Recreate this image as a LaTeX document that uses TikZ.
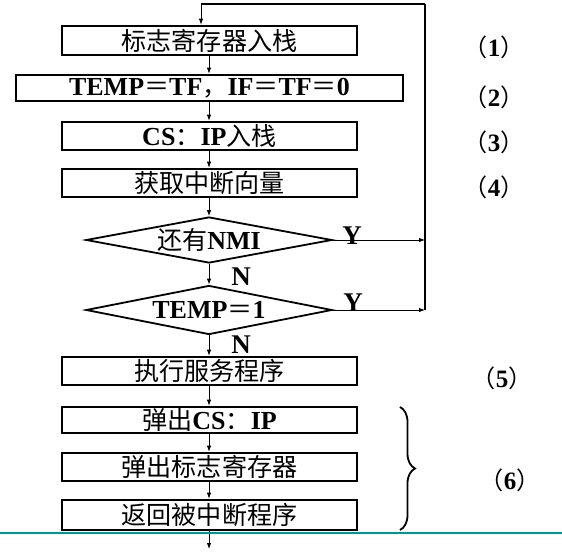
\documentclass[tikz,border=0pt]{standalone}
\usepackage{fontspec}
\setmainfont{Liberation Serif}
\newfontfamily\cjk[Scale=0.965]{Noto Sans CJK SC}
\usetikzlibrary{shapes.geometric,arrows.meta,decorations.pathreplacing}
\newcommand{\C}[1]{{\cjk\mdseries #1}}
\definecolor{tealline}{RGB}{0,150,145}
\begin{document}
\begin{tikzpicture}[x=1pt,y=-1pt,
  box/.style={draw,line width=2.6pt,rectangle,minimum width=295pt,inner sep=0pt,font=\fontsize{26}{26}\selectfont\bfseries},
  dia/.style={draw,line width=1.8pt,diamond,inner sep=0pt,minimum width=246pt,aspect=5.3,font=\fontsize{26}{26}\selectfont\bfseries},
  arr/.style={line width=0.9pt,-{Latex[length=6pt,width=4.5pt]}},
  lbl/.style={font=\fontsize{27}{27}\selectfont\bfseries},
  num/.style={font=\fontsize{25}{25}\selectfont\bfseries}]
\useasboundingbox (0,0) rectangle (562,555);
\node[box,minimum height=29pt] (b1) at (209.5,40.5) {\C{标志寄存器入栈}};
\node[box,minimum height=26pt,minimum width=387pt] (b2) at (209.5,88) {TEMP\C{＝}TF\C{，}IF\C{＝}TF\C{＝}0};
\node[box,minimum height=28pt] (b3) at (209.5,136) {CS\C{：}IP\C{入栈}};
\node[box,minimum height=28pt] (b4) at (209.5,183) {\C{获取中断向量}};
\node[dia,minimum height=46pt] (d1) at (209,240) {\raisebox{-5pt}{\C{还有}NMI}};
\node[dia,minimum height=49pt] (d2) at (209,310) {\raisebox{-4pt}{TEMP\C{＝}1}};
\node[box,minimum height=28pt] (b5) at (209.5,371) {\C{执行服务程序}};
\node[box,minimum height=26pt] (b6) at (209.5,420) {\C{弹出}CS\C{：}IP};
\node[box,minimum height=28pt] (b7) at (209.5,467) {\C{弹出标志寄存器}};
\node[box,minimum height=30pt] (b8) at (209.5,515) {\C{返回被中断程序}};
\coordinate (loopR) at (425,4);
\coordinate (loopL) at (201,4);
\coordinate (endp) at (209,549);
% main flow
\draw[arr] (loopL) -- (loopL |- b1.north);
\draw[arr] (b1.south -| d1) -- (b2.north -| d1);
\draw[arr] (b2.south -| d1) -- (b3.north -| d1);
\draw[arr] (b3.south -| d1) -- (b4.north -| d1);
\draw[arr] (b4.south -| d1) -- (d1.north);
\draw[arr] (d1.south) -- (d2.north);
\draw[arr] (d2.south) -- (b5.north -| d2);
\draw[arr] (b5.south -| d2) -- (b6.north -| d2);
\draw[arr] (b6.south -| d2) -- (b7.north -| d2);
\draw[arr] (b7.south -| d2) -- (b8.north -| d2);
\draw[arr] (b8.south -| d2) -- (endp);
% loop back
\draw[arr] (d1.east) -- (d1.east -| loopR);
\draw[arr] (d2.east) -- (d2.east -| loopR);
\draw[line width=2.4pt] (d2.east -| loopR) -- (loopR);
\draw[line width=1.6pt] (loopR) -- (loopL);
% Y / N labels
\node[lbl] (y1) at (352,236) {Y};
\node[lbl] (y2) at (353,303) {Y};
\node[lbl] (n1) at (241,277) {N};
\node[lbl] (n2) at (241,345) {N};
% step numbers
\node[num] (s1) at (494,47) {\C{（}1\C{）}};
\node[num] (s2) at (494,97) {\C{（}2\C{）}};
\node[num] (s3) at (494,142) {\C{（}3\C{）}};
\node[num] (s4) at (494,187) {\C{（}4\C{）}};
\node[num] (s5) at (502,378) {\C{（}5\C{）}};
\node[num] (s6) at (510,480) {\C{（}6\C{）}};
% brace
\draw[line width=1.8pt,decorate,decoration={brace,amplitude=15pt}] (400,407) -- (400,530);
% teal rule
\draw[tealline,line width=2pt] (0,532.5) -- (562,532.5);
\end{tikzpicture}
\end{document}
